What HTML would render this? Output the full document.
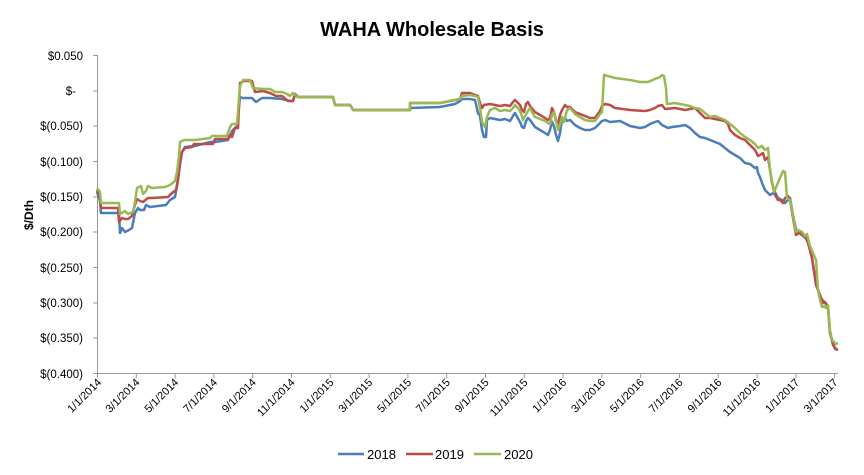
<!DOCTYPE html>
<html><head><meta charset="utf-8"><style>
body{margin:0;background:#fff}
svg{display:block;font-family:"Liberation Sans",sans-serif}
</style></head><body>
<svg width="864" height="475" viewBox="0 0 864 475">
<text x="432" y="36" text-anchor="middle" font-size="20" font-weight="bold" fill="#000">WAHA Wholesale Basis</text>
<text transform="translate(33,215) rotate(-90)" text-anchor="middle" font-size="12" font-weight="bold">$/Dth</text>
<g stroke="#999" stroke-width="1" fill="none">
<line x1="97.5" y1="55" x2="97.5" y2="373"/>
<line x1="97" y1="373.5" x2="838" y2="373.5"/>
<path d="M93 55.5h4M93 91h4M93 126h4M93 161.5h4M93 197h4M93 232h4M93 267.5h4M93 303h4M93 338h4M93 373.5h4"/>
<path d="M97.5 373v5M136.3 373v5M175.1 373v5M213.9 373v5M252.7 373v5M291.5 373v5M330.3 373v5M369.1 373v5M407.9 373v5M446.7 373v5M485.5 373v5M524.3 373v5M563.1 373v5M601.9 373v5M640.7 373v5M679.5 373v5M718.3 373v5M757.1 373v5M795.9 373v5M834.5 373v5"/>
</g>
<g font-size="11.5" fill="#000" text-anchor="end">
<text x="83" y="60">$0.050</text>
<text x="76" y="95">$-</text>
<text x="83" y="130">$(0.050)</text>
<text x="83" y="166">$(0.100)</text>
<text x="83" y="201">$(0.150)</text>
<text x="83" y="236">$(0.200)</text>
<text x="83" y="272">$(0.250)</text>
<text x="83" y="307">$(0.300)</text>
<text x="83" y="342">$(0.350)</text>
<text x="83" y="378">$(0.400)</text>
</g>
<g font-size="11" text-anchor="end" fill="#000">
<text transform="translate(102,383) rotate(-45)">1/1/2014</text>
<text transform="translate(140.3,383) rotate(-45)">3/1/2014</text>
<text transform="translate(179.1,383) rotate(-45)">5/1/2014</text>
<text transform="translate(217.9,383) rotate(-45)">7/1/2014</text>
<text transform="translate(256.7,383) rotate(-45)">9/1/2014</text>
<text transform="translate(295.5,383) rotate(-45)">11/1/2014</text>
<text transform="translate(334.3,383) rotate(-45)">1/1/2015</text>
<text transform="translate(373.1,383) rotate(-45)">3/1/2015</text>
<text transform="translate(411.9,383) rotate(-45)">5/1/2015</text>
<text transform="translate(450.7,383) rotate(-45)">7/1/2015</text>
<text transform="translate(489.5,383) rotate(-45)">9/1/2015</text>
<text transform="translate(528.3,383) rotate(-45)">11/1/2015</text>
<text transform="translate(567.1,383) rotate(-45)">1/1/2016</text>
<text transform="translate(605.9,383) rotate(-45)">3/1/2016</text>
<text transform="translate(644.7,383) rotate(-45)">5/1/2016</text>
<text transform="translate(683.5,383) rotate(-45)">7/1/2016</text>
<text transform="translate(722.3,383) rotate(-45)">9/1/2016</text>
<text transform="translate(761.1,383) rotate(-45)">11/1/2016</text>
<text transform="translate(799.9,383) rotate(-45)">1/1/2017</text>
<text transform="translate(838.5,383) rotate(-45)">3/1/2017</text>
</g>
<g fill="none" stroke-width="2.5" stroke-linejoin="round">
<polyline stroke="#4a7ebb" points="97,192 100,201 101,213 119,213 120,233 122,228 125,232 129,230 132,228 135,213 138,208 140,210 144,210 146,205 150,207 166,205 170,200 175,197 177,186 180,165 182,152 185,147 195,146 210,142 215,142 228,140 232,131 237,126 240,97 243,98 252,98 256,102 262,98 270,98 282,99 290,101 293,101 295,94 298,97 333,97 335,105 350,105 352,108 353,110 410,110 410,108 440,107 450,105 455,104 460,101 462,99 470,99 475,100 478,113 480,116 482,130 484,137 486,137 487,120 490,118 500,120 505,119 510,121 513,116 515,113 520,122 522,127 524,128 526,121 528,118 530,120 535,127 540,130 545,133 548,135 550,130 552,122 554,126 556,135 558,141 560,133 562,120 565,118 567,121 570,120 575,125 580,128 585,130 590,130 595,128 600,123 602,121 605,120 610,122 620,121 630,126 640,128 645,127 650,124 655,122 658,121 662,125 668,128 672,127 680,126 685,125 690,128 695,133 700,137 705,138 710,140 715,142 720,144 725,148 730,152 735,155 740,158 745,163 750,164 755,168 757,167 758,173 760,177 762,183 765,190 770,195 775,192 778,198 782,200 785,203 790,198 793,215 797,234 800,232 803,236 808,240 812,258 816,283 820,297 825,303 828,306 830,333 835,349 838,350"/>
<polyline stroke="#be4b48" points="97,190 100,197 101,208 118,208 119,222 122,218 125,219 128,219 132,216 134,208 137,199 140,201 143,202 148,198 152,198 168,197 172,193 176,190 178,180 180,162 182,152 185,148 192,147 194,144 213,144 215,139 228,139 230,135 232,137 235,128 238,128 240,83 244,81 252,81 255,92 263,91 270,93 276,96 282,96 288,101 293,101 295,94 298,97 333,97 335,105 350,105 352,108 353,110 410,110 410,103 440,103 455,100 460,99 462,93 470,93 475,95 478,96 480,103 482,108 484,105 490,104 500,106 505,105 510,106 513,102 515,100 520,105 522,110 524,112 526,104 528,102 530,106 535,112 540,115 545,118 548,120 550,118 552,108 554,112 556,121 558,124 560,115 562,110 565,105 567,107 570,107 575,112 580,114 585,116 590,118 595,118 600,111 602,106 605,104 610,105 615,108 630,110 645,111 650,110 655,108 658,106 662,105 665,109 675,108 685,110 695,108 700,113 705,118 710,118 715,119 720,120 725,121 728,124 730,130 735,135 740,138 745,140 750,145 755,150 758,156 760,155 763,153 765,160 768,157 772,183 775,195 778,200 780,200 783,203 785,198 788,196 790,200 792,212 796,235 799,233 802,235 805,236 808,243 812,258 816,285 820,295 823,303 825,302 828,307 830,333 833,345 836,349 838,350"/>
<polyline stroke="#98b954" points="97,188 100,192 101,203 119,203 120,214 125,211 128,214 133,212 135,202 137,188 141,186 143,194 146,191 148,186 152,188 165,187 170,185 175,181 177,172 179,156 180,142 184,140 195,140 210,138 212,136 227,136 230,127 232,124 237,124 240,86 243,80 250,80 253,88 262,89 270,89 275,92 282,92 287,94 290,96 293,93 297,97 333,97 335,105 350,105 352,108 353,110 410,110 410,103 440,103 450,101 455,100 460,99 462,96 470,95 475,96 478,97 480,108 482,122 485,127 487,117 490,110 495,108 500,111 505,110 510,111 513,108 515,105 518,108 521,113 523,120 525,116 528,111 530,108 532,112 535,117 540,119 545,121 548,123 550,124 552,115 554,112 556,120 558,130 560,125 562,117 564,122 567,110 570,108 575,114 580,117 585,120 590,121 595,121 600,114 602,112 604,75 615,78 630,80 640,82 648,82 655,79 660,77 662,75 664,76 666,88 667,104 675,103 685,105 690,106 695,108 700,109 705,113 710,117 715,116 720,118 725,120 730,124 735,128 740,133 745,137 750,140 755,144 758,148 762,146 765,150 768,148 770,170 774,192 777,185 780,178 783,171 785,172 787,198 790,200 792,210 796,232 798,230 802,232 805,236 807,234 810,246 813,253 816,260 818,290 820,300 822,307 824,306 826,308 828,305 830,330 832,340 834,342 836,344 838,343"/>
</g>
<g font-size="13">
<line x1="338" y1="454" x2="364" y2="454" stroke="#4a7ebb" stroke-width="2.5"/><text x="367" y="459">2018</text>
<line x1="406" y1="454" x2="433" y2="454" stroke="#be4b48" stroke-width="2.5"/><text x="435" y="459">2019</text>
<line x1="474" y1="454" x2="501" y2="454" stroke="#98b954" stroke-width="2.5"/><text x="504" y="459">2020</text>
</g>
</svg>
</body></html>
